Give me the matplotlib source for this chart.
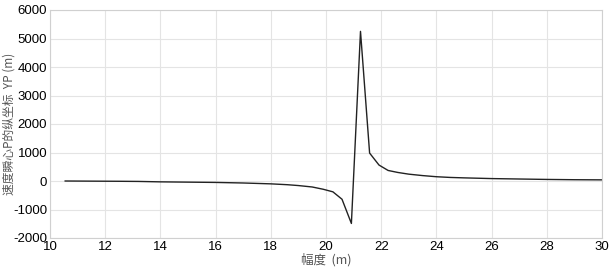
import matplotlib.pyplot as plt

# 幅度 (m) 与 速度瞬心P的纵坐标 YP (m)
amp = [10.55, 11.5, 12.5, 13.2, 14.0, 15.0, 16.0, 17.0, 18.0, 18.6, 19.0,
       19.5, 19.9, 20.25, 20.58, 20.92, 21.25, 21.58, 21.92, 22.25, 22.6,
       23.0, 23.5, 24.0, 24.5, 25.0, 26.0, 27.0, 28.0, 29.0, 30.0]
yp = [0, -5, -10, -15, -30, -40, -50, -70, -100, -130, -160,
      -210, -290, -380, -640, -1490, 5250, 980, 560, 370, 300,
      240, 190, 150, 125, 110, 85, 70, 55, 45, 40]

xticks = [10, 12, 14, 16, 18, 20, 22, 24, 26, 28, 30]
yticks = [-2000, -1000, 0, 1000, 2000, 3000, 4000, 5000, 6000]

plt.rcParams['font.family'] = ['Liberation Sans', 'Noto Sans CJK SC']
plt.rcParams['axes.unicode_minus'] = False

fig = plt.figure(figsize=(6.11, 2.67), dpi=100)
ax = fig.add_axes([50 / 611, 1 - 238 / 267, 552 / 611, 228 / 267])

ax.plot(amp, yp, color='#222222', lw=1.0)

ax.set_xlim(10, 30)
ax.set_ylim(-2000, 6000)
ax.set_xticks(xticks)
ax.set_yticks(yticks)
ax.grid(True, color='#e4e4e4', lw=0.8)
ax.set_axisbelow(True)
for s in ax.spines.values():
    s.set_color('#d0d0d0')
ax.tick_params(length=0, labelsize=9.5, pad=2)

ax.set_xlabel('幅度  (m)', fontsize=9, color='#555555',
              family=['Noto Sans CJK SC', 'Liberation Sans'])
ax.set_ylabel('速度瞬心P的纵坐标  YP (m)', fontsize=8.5, color='#555555',
              family=['Noto Sans CJK SC', 'Liberation Sans'])
ax.xaxis.set_label_coords(0.5, -0.068)
ax.yaxis.set_label_coords(-0.062, 0.5)

fig.savefig('out.png', dpi=100)
